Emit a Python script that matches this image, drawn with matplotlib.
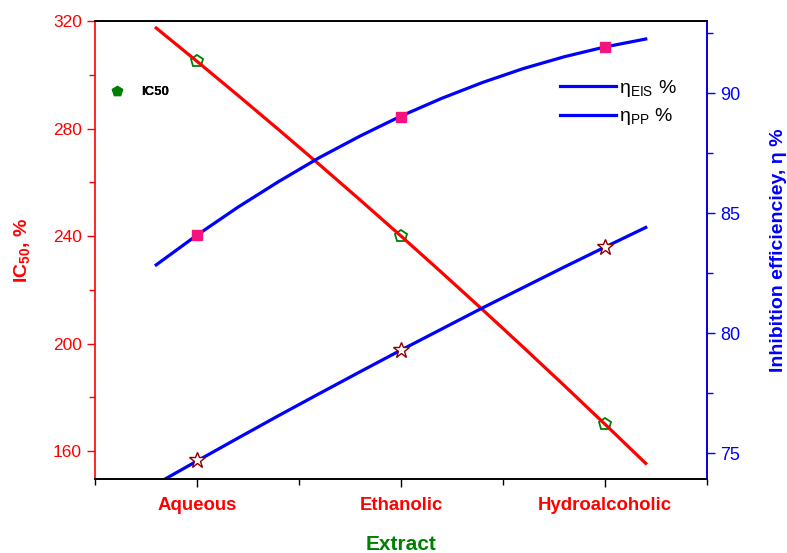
import numpy as np
import matplotlib
matplotlib.use('Agg')
import matplotlib.pyplot as plt
from matplotlib.lines import Line2D
from matplotlib.ticker import MultipleLocator, FixedLocator

matplotlib.rcParams['font.family'] = ['Liberation Sans', 'DejaVu Sans']
matplotlib.rcParams['mathtext.fontset'] = 'custom'
matplotlib.rcParams['mathtext.rm'] = 'Liberation Sans'
matplotlib.rcParams['mathtext.bf'] = 'Liberation Sans:bold'

extracts = ['Aqueous', 'Ethanolic', 'Hydroalcoholic']
pos = [1, 2, 3]

# measured points
ic50 = [305, 240, 170]
eta_eis = [84.1, 89.0, 91.9]
eta_pp = [74.7, 79.3, 83.6]

# fitted curves
fit_x = [0.8, 1.0, 1.2, 1.4, 1.6, 1.8, 2.0, 2.2, 2.4, 2.6, 2.8, 3.0, 3.2]
ic50_fit = [317.4, 305.0, 292.4, 279.6, 266.6, 253.4, 240.0,
            226.4, 212.6, 198.6, 184.4, 170.0, 155.4]
eis_fit = [82.84, 84.08, 85.24, 86.31, 87.31, 88.21, 89.04,
           89.78, 90.44, 91.02, 91.51, 91.92, 92.25]
pp_fit = [73.71, 74.67, 75.62, 76.56, 77.48, 78.39, 79.29,
          80.17, 81.05, 81.90, 82.75, 83.58, 84.40]

fig = plt.figure(figsize=(7.87, 5.53), dpi=100)
ax = fig.add_axes([0.1207, 0.1338, 0.7776, 0.8282])
ax2 = ax.twinx()

ax.plot(pos, ic50, 'p', ms=9, mfc='none', mec='green', mew=1.3, zorder=2)
ax.plot(fit_x, ic50_fit, '-', color='red', lw=2.3, zorder=3)

ax2.plot(fit_x, eis_fit, '-', color='blue', lw=2.3, zorder=2)
ax2.plot(fit_x, pp_fit, '-', color='blue', lw=2.3, zorder=2)
ax2.plot(pos, eta_eis, 's', ms=7, color='#f5137f', mec='#f5137f', zorder=3)
ax2.plot(pos, eta_pp, '*', ms=12, mfc='white', mec='#8b0000', mew=1.0, zorder=3)

ax.set_xlim(0.5, 3.5)
ax.set_ylim(149.6, 320)
ax2.set_ylim(73.92, 93.0)

ax.set_xticks(pos)
ax.set_xticklabels(extracts, color='red', fontweight='bold', fontsize=13.4)
ax.xaxis.set_minor_locator(FixedLocator([0.5, 1.5, 2.5, 3.5]))
ax.yaxis.set_major_locator(MultipleLocator(40))
ax.yaxis.set_minor_locator(MultipleLocator(20))
ax2.yaxis.set_major_locator(MultipleLocator(5))
ax2.yaxis.set_minor_locator(MultipleLocator(2.5))

ax.tick_params(axis='x', which='major', length=6, width=1, color='black', pad=7)
ax.tick_params(axis='x', which='minor', length=4, width=1, color='black')
ax.tick_params(axis='y', which='major', length=6, width=1, colors='red', labelsize=12.5)
ax.tick_params(axis='y', which='minor', length=4, width=1, color='red')
ax2.tick_params(axis='y', which='major', length=6, width=1, colors='blue', labelsize=13)
ax2.tick_params(axis='y', which='minor', length=4, width=1, color='blue')

ax.spines['left'].set_color('red')
ax2.spines['left'].set_visible(False)
ax2.spines['right'].set_color('blue')
for a in (ax, ax2):
    for s in a.spines.values():
        s.set_linewidth(1.2)

ax.set_xlabel('Extract', color='green', fontweight='bold', fontsize=15, labelpad=15)
ax.set_ylabel('IC$_{\\mathbf{50}}$, %', color='red', fontweight='bold', fontsize=14, labelpad=14)
ax2.set_ylabel('Inhibition efficienciey, η %', color='blue', fontweight='bold',
               fontsize=14, labelpad=21)

h_ic = Line2D([], [], ls='none', marker='p', ms=7, color='green', mec='green')
leg1 = ax.legend([h_ic], ['IC50'], loc='center left', bbox_to_anchor=(0.026, 0.845),
                 frameon=False, borderpad=0, borderaxespad=0, handlelength=1,
                 handletextpad=1.3, prop={'weight': 'bold', 'size': 9.5})
ax.add_artist(leg1)

h_eis = Line2D([], [], color='blue', lw=2.3)
h_pp = Line2D([], [], color='blue', lw=2.3)
ax2.legend([h_eis, h_pp], ['η$_{\\mathrm{EIS}}$ %', 'η$_{\\mathrm{PP}}$ %'],
           loc='center left', bbox_to_anchor=(0.76, 0.822), frameon=False,
           borderpad=0, borderaxespad=0, handlelength=2.85, handletextpad=0.2,
           labelspacing=0.4, fontsize=14)

fig.savefig('out.png', dpi=100)
